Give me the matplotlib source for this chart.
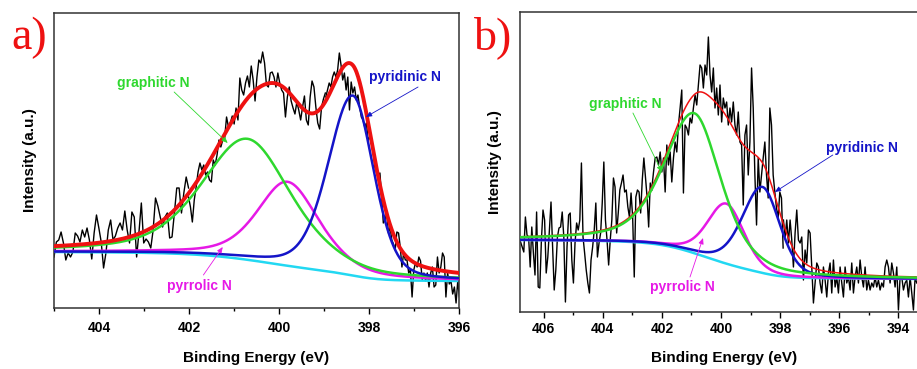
import matplotlib
matplotlib.use('Agg')
import matplotlib.pyplot as plt
import numpy as np

plt.rcParams['font.family'] = ['Liberation Sans', 'DejaVu Sans']
plt.rcParams['font.weight'] = 'bold'

# ---------------- panel a ----------------
# raw N1s spectrum, read off in three pieces (height above frame bottom, a.u.)
a_seg_energy = [(405.0, 402.01), (402.01, 398.97), (398.96, 395.99)]
a_raw_1 = [51, 66, 68, 76, 65, 48, 55, 51, 56, 75, 72, 66, 78, 71, 80, 68, 49, 75, 93, 80,
           66, 40, 55, 78, 88, 68, 72, 80, 85, 78, 97, 78, 65, 96, 91, 51, 76, 105, 65, 69,
           66, 60, 78, 110, 102, 91, 81, 91, 95, 70, 71, 95, 120, 120, 95, 115, 131, 120]
a_raw_2 = [111, 101, 86, 108, 121, 136, 145, 138, 143, 133, 136, 128, 126, 148, 143, 153, 168, 161, 168, 170,
           191, 181, 185, 192, 184, 200, 188, 230, 218, 213, 225, 232, 221, 242, 228, 207, 231, 248, 245, 256,
           245, 223, 221, 235, 236, 231, 221, 235, 225, 218, 215, 191, 211, 221, 207, 200, 194, 206, 198, 188,
           201, 212, 188, 183, 211, 227, 221, 201, 185, 179, 201, 209, 215]
a_raw_3 = [211, 218, 225, 221, 231, 236, 231, 238, 255, 243, 228, 235, 218, 231, 198, 226, 215, 221, 208, 213,
           201, 191, 188, 181, 185, 168, 171, 164, 155, 141, 135, 131, 135, 111, 85, 88, 95, 75, 81, 68,
           64, 58, 76, 75, 61, 41, 55, 48, 48, 35, 38, 11, 38, 45, 41, 51, 47, 28, 35, 27,
           35, 21, 35, 41, 21, 23, 51, 35, 41, 55, 51, 11, 35, 24, 27, 14, 21, 5, 27, 11]

# fitted components: graphitic, pyrrolic, pyridinic
a_centre = [400.70, 399.81, 398.36]
a_height = [121, 84, 180]
a_fwhm_hi = [2.4, 1.6, 1.3]
a_fwhm_lo = [2.3, 1.65, 1.1]
a_lfrac = [0.5, 0.5, 0.3]
a_bg_level = (56, 27)  # high-BE side, low-BE side

# ---------------- panel b ----------------
b_seg_energy = [(406.78, 402.34), (402.34, 397.90), (397.89, 393.38)]
b_raw_1 = [70, 65, 60, 95, 77, 75, 45, 85, 59, 37, 100, 25, 24, 72, 102, 92, 39, 55, 82, 110,
           65, 22, 42, 75, 84, 85, 100, 75, 10, 65, 97, 99, 52, 29, 69, 89, 82, 92, 149, 75,
           59, 42, 29, 19, 52, 65, 82, 109, 55, 69, 79, 109, 150, 92, 72, 47, 72, 92, 134, 125,
           79, 99, 122, 129, 137, 120, 122, 105, 95, 119, 95, 35, 115, 122, 120, 99, 132, 154, 135, 115,
           85, 129, 122]
b_raw_2 = [124, 140, 154, 155, 147, 160, 140, 154, 120, 167, 147, 160, 130, 154, 170, 160, 187, 204, 222, 119,
           187, 184, 177, 194, 189, 204, 217, 207, 227, 247, 244, 224, 247, 237, 275, 237, 220, 244, 204, 224,
           197, 227, 190, 214, 204, 210, 187, 204, 190, 210, 187, 177, 200, 170, 167, 107, 177, 187, 137, 170,
           244, 204, 137, 87, 154, 120, 137, 154, 170, 137, 114, 204, 187, 137, 120, 104, 94, 120, 114, 64]
b_raw_3 = [92, 75, 92, 69, 92, 72, 45, 79, 102, 72, 69, 75, 32, 62, 49, 82, 79, 45, 9, 29,
           49, 45, 29, 19, 45, 32, 15, 39, 49, 19, 52, 25, 35, 19, 45, 29, 15, 45, 29, 35,
           22, 49, 19, 35, 45, 29, 52, 35, 25, 45, 22, 32, 22, 29, 25, 35, 25, 32, 22, 29,
           25, 45, 52, 45, 29, 49, 39, 25, 45, 2, 35, 35, 22, 29, 32, 15, 35, 19, 2, 35, 29]

b_centre = [400.90, 399.82, 398.60]
b_height = [140, 60, 86]
b_fwhm_hi = [2.4, 1.5, 1.6]
b_fwhm_lo = [2.1, 1.4, 1.4]
b_lfrac = [0.5, 0.3, 0.3]
b_bg_level = (72, 33)

RED = '#ee1111'
GREEN = '#2ed82e'
MAGENTA = '#e619e6'
BLUE = '#1414c8'
CYAN = '#22d8f2'


def gl_peak(x, c, h, w_hi, w_lo, m):
    """Gauss-Lorentz mix, separate widths each side of the centre"""
    w = np.where(x >= c, w_hi, w_lo)
    d = 4 * (x - c) ** 2 / w ** 2
    return h * ((1 - m) * np.exp(-np.log(2) * d) + m / (1 + d))


def shirley(x, peaks, hi, lo):
    # x runs high -> low binding energy
    xs, ps = x[::-1], peaks[::-1]
    cum = np.concatenate([[0], np.cumsum((ps[1:] + ps[:-1]) / 2 * np.diff(xs))])
    return (lo + (hi - lo) * cum / cum[-1])[::-1]


def draw_panel(ax, seg_energy, raws, centre, height, w_hi, w_lo, lfrac, bg_level,
               xlim, red_lw, comp_order, pad, labelpad):
    # raw data
    for (e0, e1), raw in zip(seg_energy, raws):
        ax.plot(np.linspace(e0, e1, len(raw)), raw, color='black', lw=1.0, zorder=1)

    x = np.linspace(xlim[0], xlim[1], 800)
    comps = [gl_peak(x, c, h, a, b, m) for c, h, a, b, m in zip(centre, height, w_hi, w_lo, lfrac)]
    bg = shirley(x, sum(comps), *bg_level)

    ax.plot(x, bg, color=CYAN, lw=1.8, zorder=2)
    colors = [GREEN, MAGENTA, BLUE]
    for z, i in enumerate(comp_order):
        if i == 'red':
            ax.plot(x, bg + sum(comps), color=RED, lw=red_lw, zorder=3 + z)
        else:
            ax.plot(x, bg + comps[i], color=colors[i], lw=1.8, zorder=3 + z)

    ax.set_xlim(*xlim)
    ax.set_yticks([])
    for s in ax.spines.values():
        s.set_color('#333333')
        s.set_linewidth(1.1)
    ax.tick_params(axis='x', which='major', direction='out', length=4, width=1, labelsize=10, pad=pad)
    ax.tick_params(axis='x', which='minor', direction='out', length=2.5, width=1)
    ax.set_xlabel('Binding Energy (eV)', fontsize=11, fontweight='bold', labelpad=labelpad)
    ax.set_ylabel('Intensity (a.u.)', fontsize=11, fontweight='bold')


def label(ax, text, color, pos, start, end):
    ax.text(pos[0], pos[1], text, color=color, fontsize=10, fontweight='bold',
            ha='center', va='center', zorder=10)
    ax.annotate('', xy=end, xytext=start, zorder=10,
                arrowprops=dict(arrowstyle='-|>,head_length=0.35,head_width=0.15',
                                color=color, lw=0.6, shrinkA=0, shrinkB=0))


fig = plt.figure(figsize=(9.17, 3.69), dpi=100)

ax_a = fig.add_axes([54 / 917, 61 / 369, 405 / 917, 295 / 369])
draw_panel(ax_a, a_seg_energy, [a_raw_1, a_raw_2, a_raw_3], a_centre, a_height,
           a_fwhm_hi, a_fwhm_lo, a_lfrac, a_bg_level, (405, 396), 2.8, [1, 0, 2, 'red'], 5, 12)
ax_a.set_ylim(0, 295)
ax_a.set_xticks([404, 402, 400, 398, 396])
ax_a.set_xticks([405, 403, 401, 399, 397], minor=True)
ax_a.yaxis.set_label_coords(-0.042, 0.5)
label(ax_a, 'graphitic N', GREEN, (402.79, 225), (402.33, 216), (401.14, 165))
label(ax_a, 'pyridinic N', BLUE, (397.2, 231), (396.91, 221), (398.07, 191))
label(ax_a, 'pyrrolic N', MAGENTA, (401.77, 22), (401.68, 33), (401.25, 61))

ax_b = fig.add_axes([520 / 917, 57 / 369, 408 / 917, 300 / 369])
draw_panel(ax_b, b_seg_energy, [b_raw_1, b_raw_2, b_raw_3], b_centre, b_height,
           b_fwhm_hi, b_fwhm_lo, b_lfrac, b_bg_level, (406.8, 393.0), 1.1, [1, 2, 'red', 0], 3, 11)
ax_b.set_ylim(0, 300)
ax_b.set_xticks([406, 404, 402, 400, 398, 396, 394])
ax_b.set_xticks([405, 403, 401, 399, 397, 395, 393], minor=True)
ax_b.yaxis.set_label_coords(-0.044, 0.5)
label(ax_b, 'graphitic N', GREEN, (403.25, 208), (402.98, 199), (402.0, 140))
label(ax_b, 'pyridinic N', BLUE, (395.24, 164), (396.22, 157), (398.18, 120))
label(ax_b, 'pyrrolic N', MAGENTA, (401.32, 25), (401.05, 35), (400.61, 74))

for txt, xp in [('a)', 29), ('b)', 493)]:
    fig.text(xp / 917, 1 - 38 / 369, txt, color=RED, family='Liberation Serif',
             fontsize=33, fontweight='normal', ha='center', va='center')

fig.savefig('out.png', dpi=100)
